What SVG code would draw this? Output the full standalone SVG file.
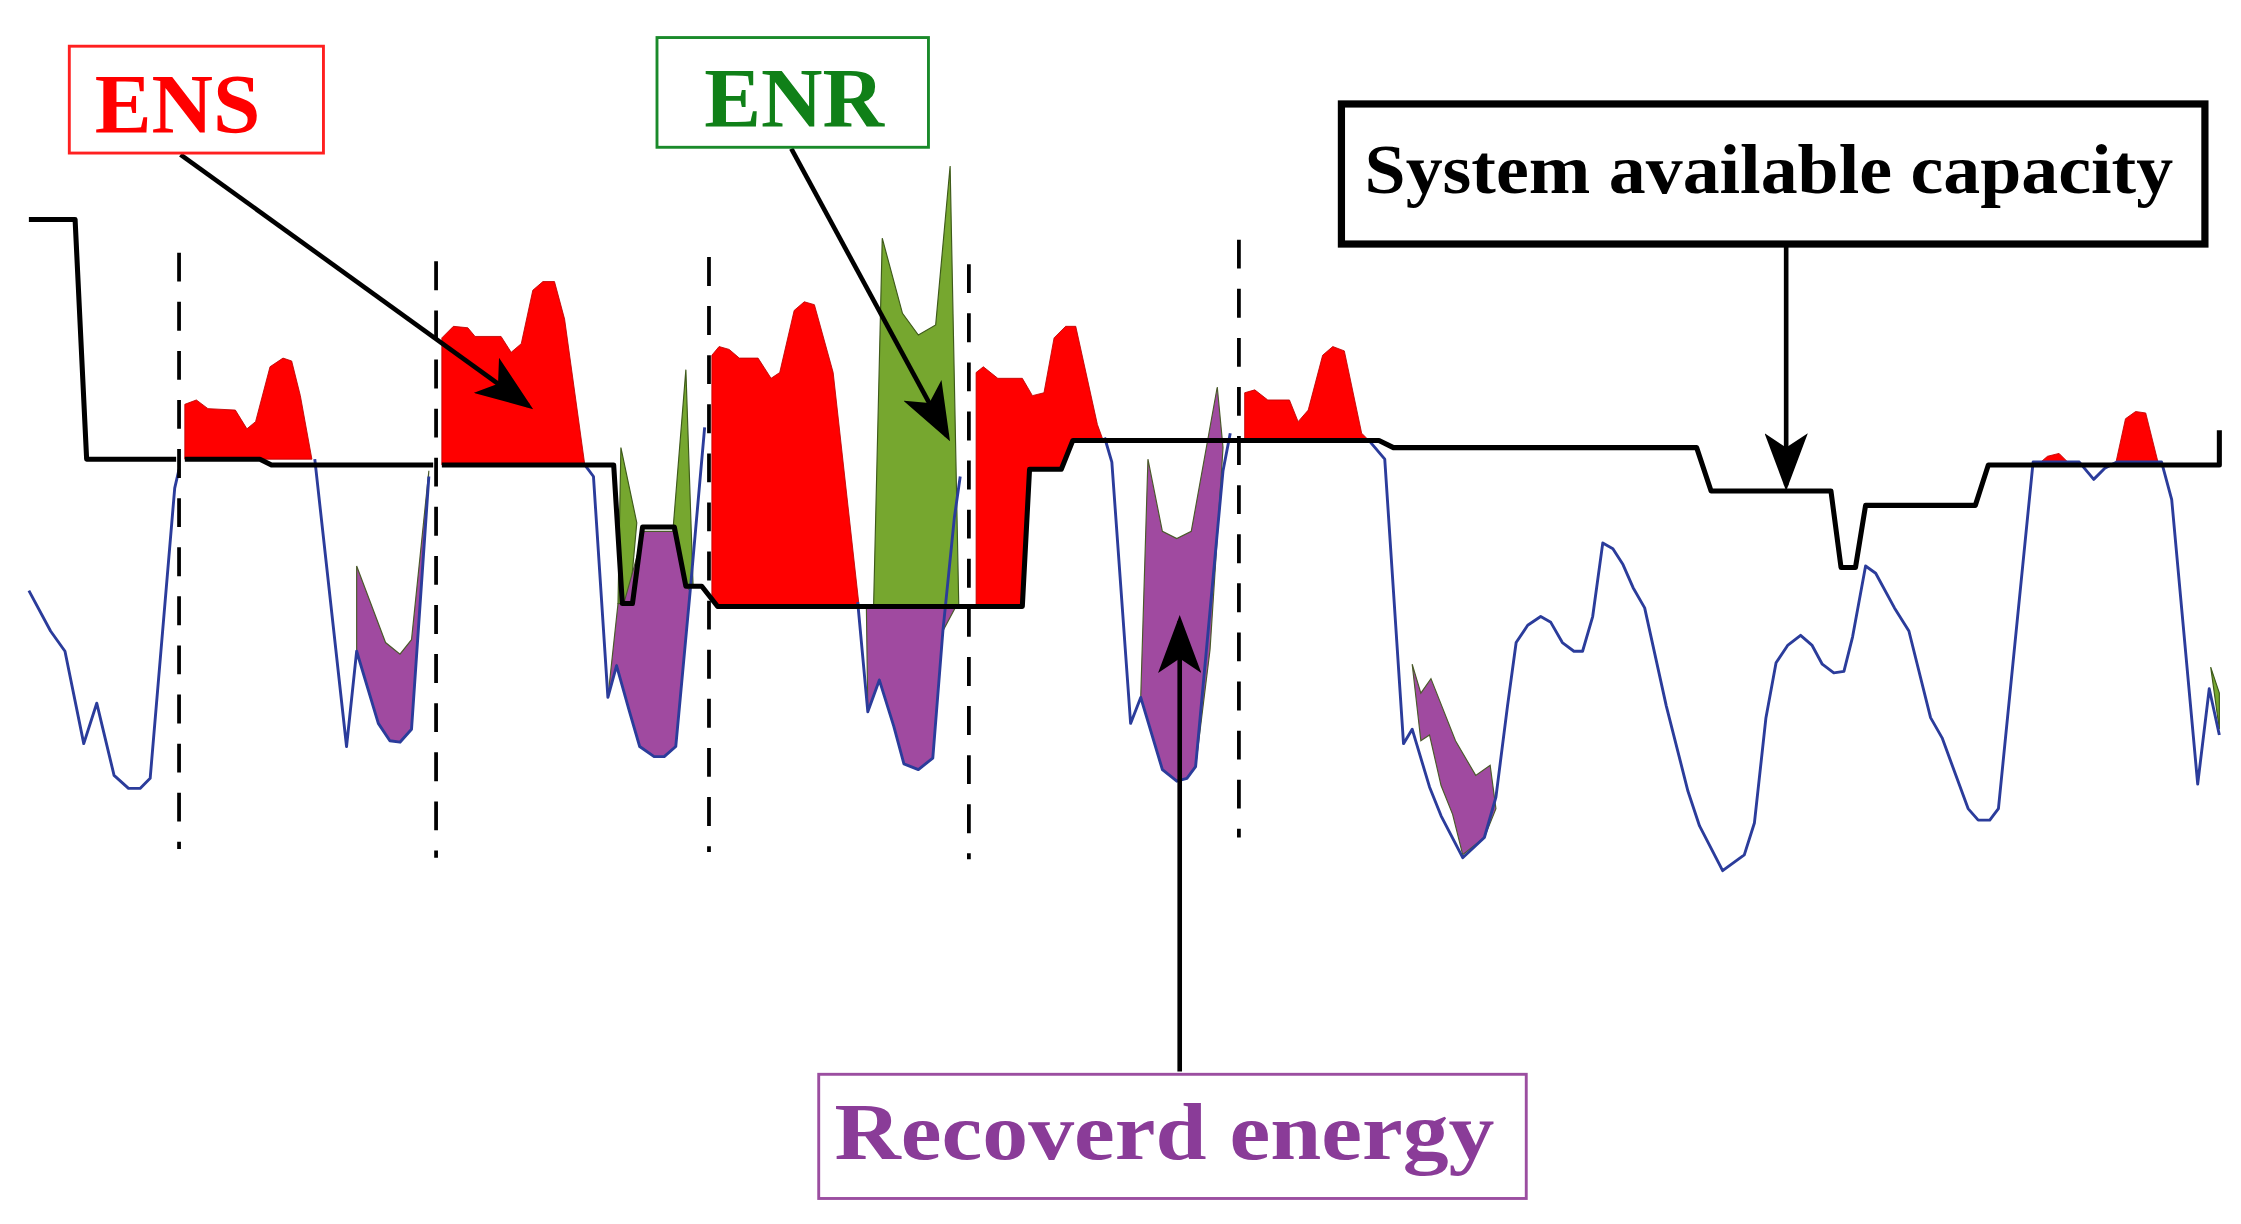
<svg xmlns="http://www.w3.org/2000/svg" width="2241" height="1224" viewBox="0 0 2241 1224">
<style>
.red{fill:#ff0000;stroke:#c00000;stroke-width:0.6}
.grn{fill:#76a72f;stroke:#3e5a1a;stroke-width:0.8}
.pur{fill:#a04aa0;stroke:#4a5a2a;stroke-width:0.8}
.blue{fill:none;stroke:#2b3c9b;stroke-width:2;stroke-linejoin:round}
.cap{fill:none;stroke:#000;stroke-width:3.5;stroke-linejoin:round}
.dash{stroke:#000;stroke-width:2.6;stroke-dasharray:20 14}
.arr{stroke:#000;stroke-width:3.2;fill:none;marker-end:url(#ah)}
.lbl{font-family:"Liberation Serif","DejaVu Serif",serif;font-weight:bold}
</style>
<defs>
<marker id="ah" markerUnits="userSpaceOnUse" viewBox="0 0 40 30" refX="36" refY="15" markerWidth="40" markerHeight="30" orient="auto">
<path d="M0,0 L40,15 L0,30 L10,15 Z" fill="#000"/>
</marker>
</defs>
<rect width="2241" height="1224" fill="#fff"/>
<g transform="scale(1.44395)">
<g id="chart">
<path class="red" d="M128,280 L136,277 L144,283 L163,284 L171,297 L177,292 L187,254 L196,248 L202,250 L208,274 L216,318 L128,318 Z"/>
<path class="pur" d="M247,392 L267,445 L277,453 L285,443 L297,326 L285,505 L277,514 L270,513 L262,501 L247,451 Z"/>
<path class="red" d="M306,234 L314,226 L324,227 L329,233 L347,233 L354,244 L361,238 L369,201 L376,195 L384,195 L391,221 L405,322 L306,322 Z"/>
<path class="grn" d="M428,418 L430,310 L441,362 L436,418 Z"/>
<path class="grn" d="M466,368 L475,256 L480,406 L472,406 Z"/>
<path class="pur" d="M432,418 L446,368 L468,368 L475,406 L478,409 L468,517 L460,524 L453,524 L443,517 L436,493 L427,461 L421,483 L428,418 Z"/>
<path class="red" d="M493,246 L498,240 L505,242 L512,248 L525,248 L534,262 L540,258 L550,215 L557,209 L564,211 L577,258 L595,420 L497,420 L493,412 Z"/>
<path class="grn" d="M605,420 L611,165 L625,217 L636,232 L648,225 L658,115 L664,420 Z"/>
<path class="pur" d="M600,420 L662,420 L653,437 L646,525 L636,533 L626,529 L619,503 L609,471 L601,493 Z"/>
<path class="red" d="M676,258 L681,254 L691,262 L708,262 L715,274 L723,272 L730,234 L738,226 L745,226 L760,294 L764,305 L743,305 L735,325 L713,325 L708,420 L676,420 Z"/>
<path class="pur" d="M795,318 L805,368 L815,373 L825,368 L843,268 L847,310 L838,450 L828,531 L822,539 L815,541 L805,533 L790,483 Z"/>
<path class="red" d="M862,272 L869,270 L878,277 L893,277 L899,292 L906,284 L916,246 L923,240 L931,243 L943,300 L948,305 L862,305 Z"/>
<path class="pur" d="M978,460 L984,480 L991,470 L1008,513 L1022,537 L1032,530 L1036,560 L1028,580 L1013,592 L1006,564 L998,544 L990,509 L984,513 Z"/>
<path class="red" d="M1411,322 L1418,316 L1426,314 L1434,322 Z"/>
<path class="red" d="M1465,322 L1472,290 L1479,285 L1486,286 L1495,322 Z"/>
<path class="grn" d="M1531,462 L1537,480 L1537,505 Z"/>
<path class="blue" d="M20,409 L35,437 L45,451 L58,515 L67,487 L79,537 L89,546 L97,546 L104,539 L121,338 L124,325"/>
<path class="blue" d="M218,318 L240,517 L247,451 L262,501 L270,513 L277,514 L285,505 L297,330"/>
<path class="blue" d="M405,322 L411,330 L421,483 L427,461 L436,493 L443,517 L453,524 L460,524 L468,517 L478,409 L488,296"/>
<path class="blue" d="M594,417 L601,493 L609,471 L619,503 L626,529 L636,533 L646,525 L653,437 L661,358 L665,330"/>
<path class="blue" d="M765,303 L770,320 L783,501 L790,483 L805,533 L815,541 L822,539 L828,531 L847,326 L852,300"/>
<path class="blue" d="M948,305 L959,318 L972,515 L978,505 L990,545 L998,565 L1013,594 L1028,580 L1036,552 L1044,489 L1050,445 L1058,433 L1067,427 L1074,431 L1082,445 L1090,451 L1096,451 L1103,427 L1110,376 L1117,380 L1124,391 L1131,407 L1139,421 L1154,489 L1169,548 L1177,572 L1193,603 L1208,592 L1215,570 L1223,497 L1230,459 L1238,447 L1247,440 L1255,447 L1262,460 L1270,466 L1277,465 L1283,441 L1292,392 L1299,397 L1312,421 L1322,437 L1337,497 L1345,511 L1363,560 L1370,568 L1378,568 L1384,560 L1408,320 L1440,320 L1450,332 L1458,324 L1466,320 L1497,320 L1504,346 L1522,543 L1530,477 L1537,509"/>
<path class="cap" d="M20,152 L52,152 L60,318 L122,318 M128,318 L180,318 L188,322 L300,322 M306,322 L425,322 L431,418 L438,418 L445,365 L467,365 L475,406 L486,406 L497,420 L708,420 L713,325 L735,325 L743,305 L955,305 L965,310 L1175,310 L1185,340 L1268,340 L1275,393 L1285,393 L1292,350 L1368,350 L1377,322 L1537,322 L1537,298"/>
<line class="dash" x1="124" y1="175" x2="124" y2="588"/>
<line class="dash" x1="302" y1="181" x2="302" y2="594"/>
<line class="dash" x1="491" y1="178" x2="491" y2="590"/>
<line class="dash" x1="671" y1="183" x2="671" y2="595"/>
<line class="dash" x1="858" y1="166" x2="858" y2="580"/>
</g>
<g id="connectors">
<line class="arr" x1="125" y1="107" x2="366" y2="281"/>
<line class="arr" x1="548" y1="103" x2="656" y2="302"/>
<line class="arr" x1="1237" y1="170" x2="1237" y2="336"/>
<line class="arr" x1="817" y1="742" x2="817" y2="430"/>
</g>
<g id="ens">
<rect x="48" y="32" width="176" height="74" fill="#fff" stroke="#ff2020" stroke-width="2"/>
<text class="lbl" x="123" y="92" font-size="59" fill="#ff0000" text-anchor="middle">ENS</text>
</g>
<g id="enr">
<rect x="455" y="26" width="188" height="76" fill="#fff" stroke="#1a8a2a" stroke-width="2"/>
<text class="lbl" x="550" y="88" font-size="59" fill="#108018" text-anchor="middle">ENR</text>
</g>
<g id="sac">
<rect x="929" y="72" width="598" height="97" fill="#fff" stroke="#000" stroke-width="5"/>
<text class="lbl" x="945" y="134" font-size="49" fill="#000" textLength="560" lengthAdjust="spacingAndGlyphs">System available capacity</text>
</g>
<g id="rec">
<rect x="567" y="744" width="490" height="86" fill="#fff" stroke="#9b4ea0" stroke-width="2"/>
<text class="lbl" x="578" y="803" font-size="56" fill="#8a3c98" textLength="457" lengthAdjust="spacingAndGlyphs">Recoverd energy</text>
</g>
</g>
</svg>
